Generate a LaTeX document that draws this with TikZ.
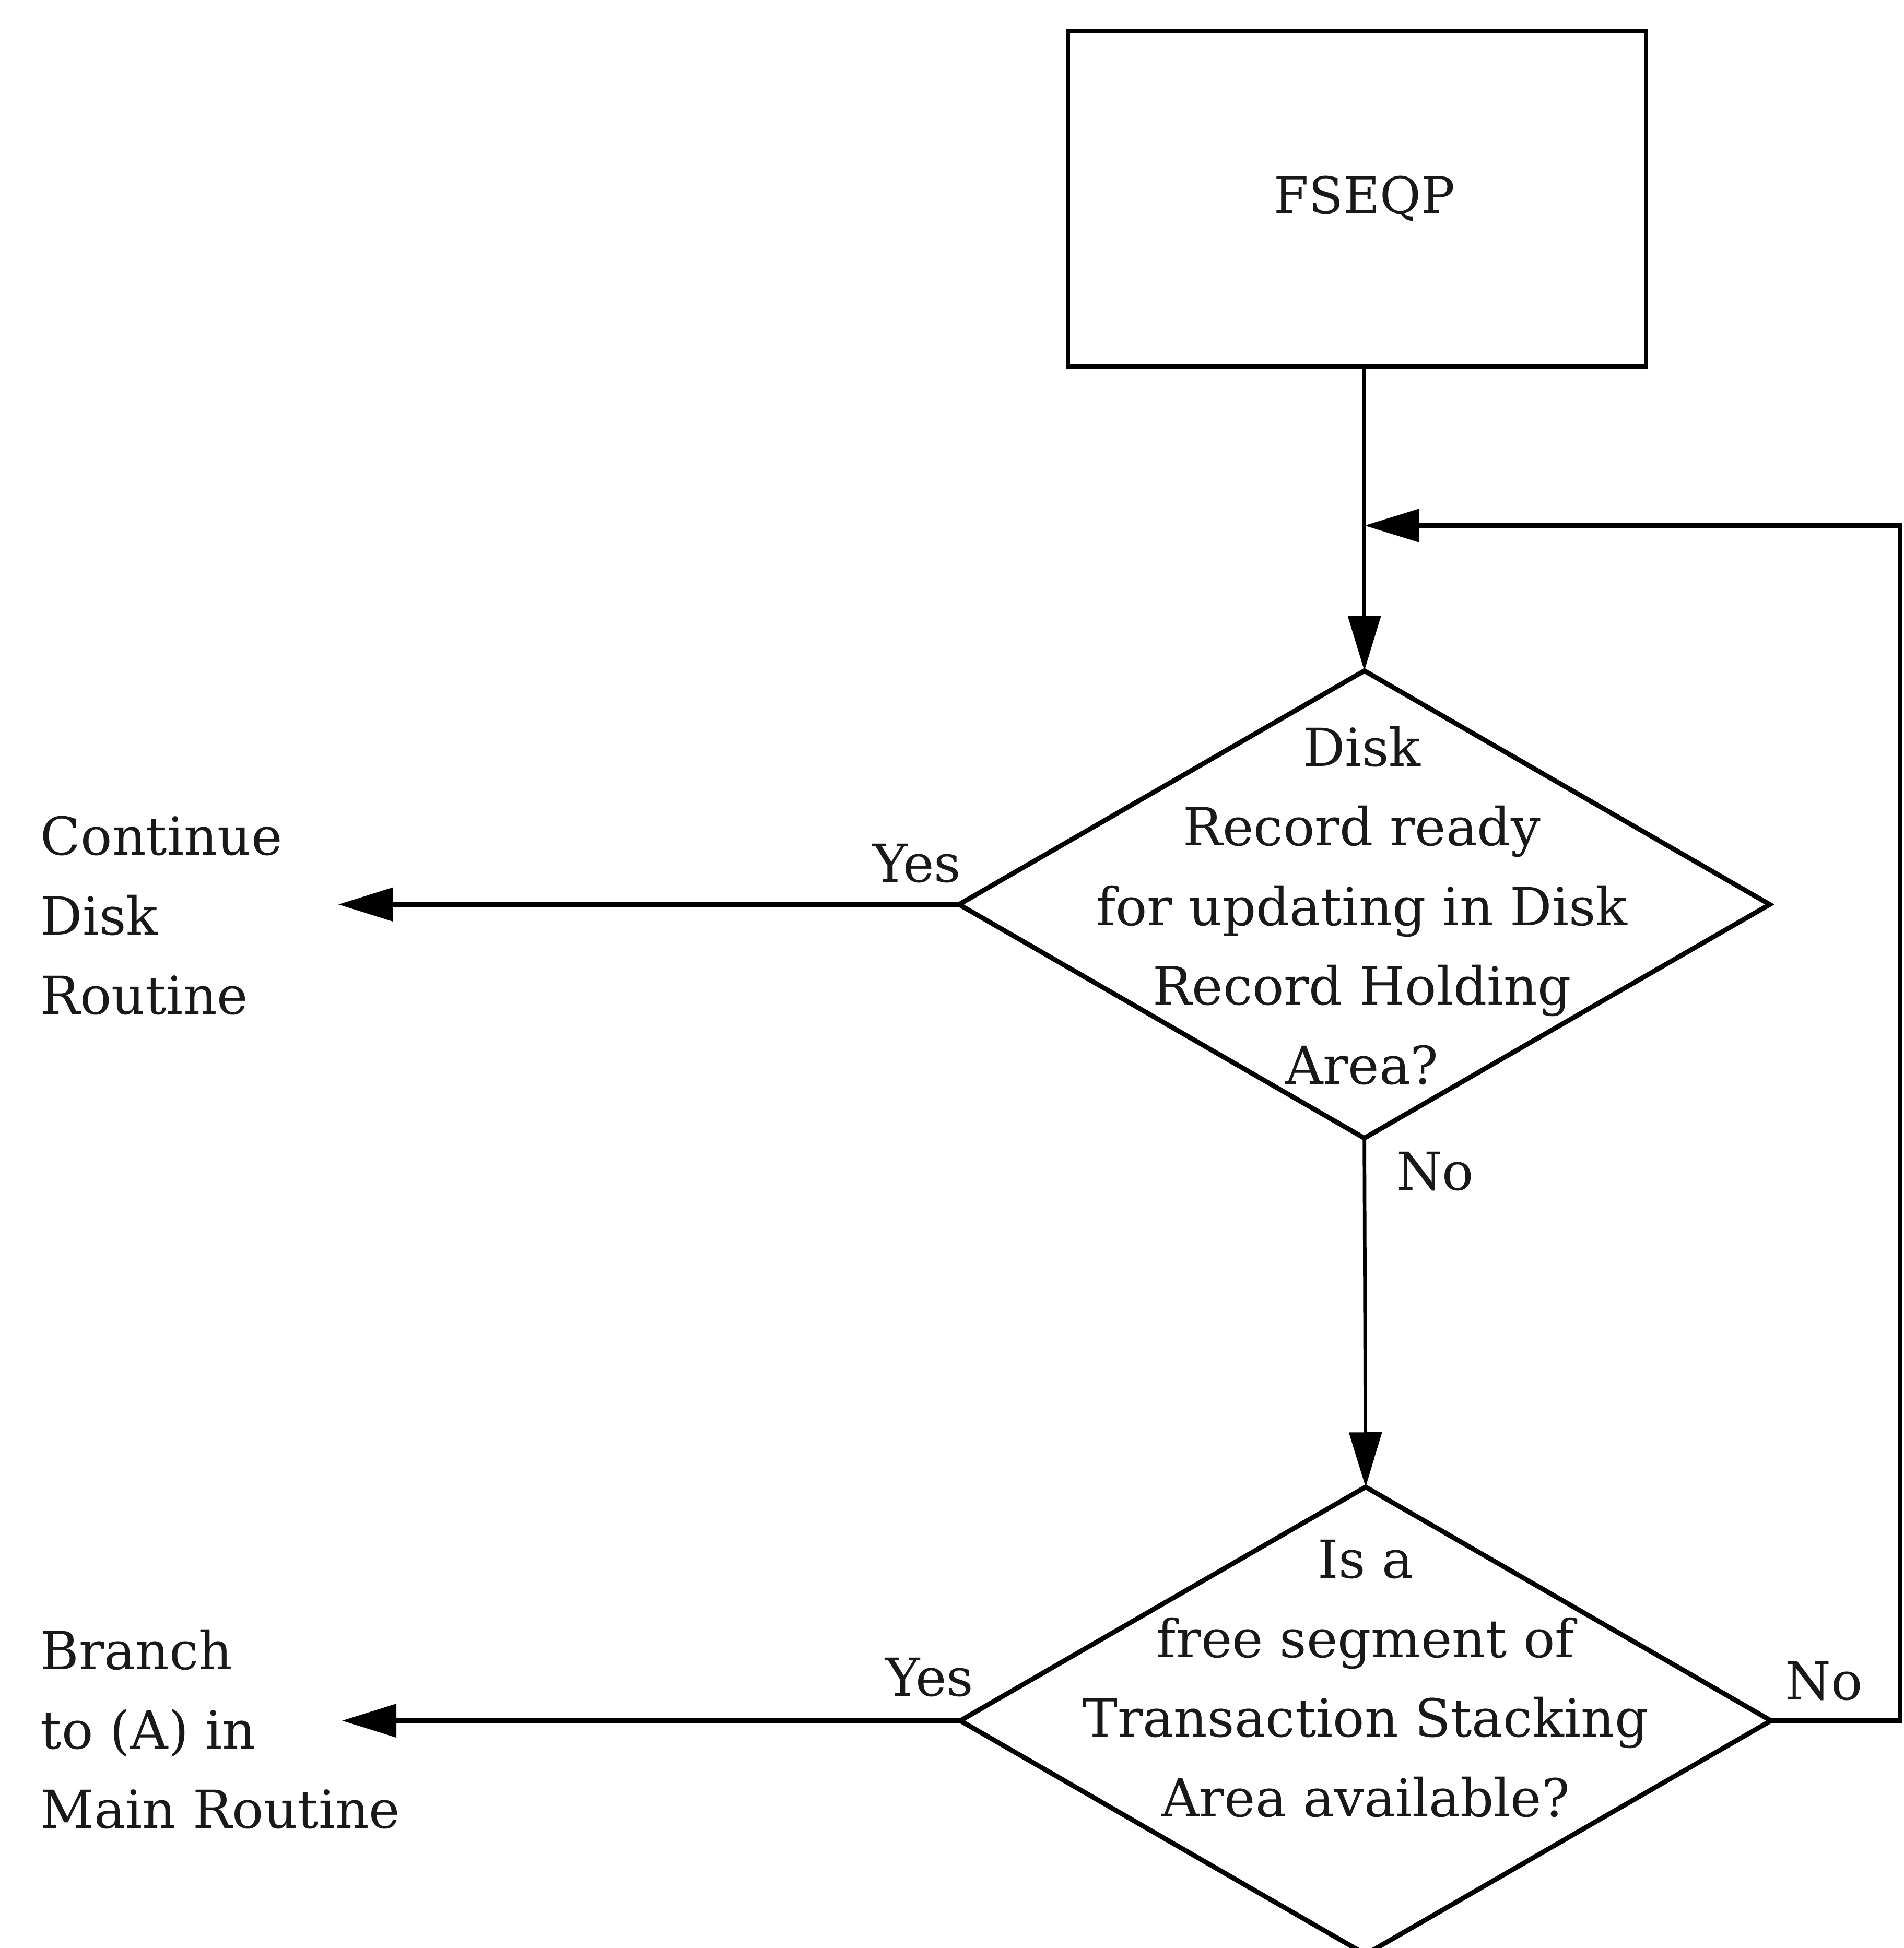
\documentclass[tikz,border=0pt]{standalone}
\usepackage{fontspec}
\setmainfont{DejaVu Serif}
\usetikzlibrary{shapes.geometric,arrows.meta}
\begin{document}
\begin{tikzpicture}[x=0.01cm,y=-0.01cm,
  every node/.style={font=\fontsize{12}{18.2}\selectfont, inner sep=0pt, text=black!90},
  procbox/.style={draw, line width=1pt, minimum width=4.65cm, minimum height=2.7cm, outer sep=0pt},
  decide/.style={draw, diamond, line width=1.1pt, minimum width=6.52cm, minimum height=3.76cm, outer sep=0pt, inner sep=0pt},
  dtext/.style={align=center},
  ltext/.style={align=left, anchor=west},
  arr/.style={-{Triangle[length=0.44cm,width=0.26cm]}},
  vline/.style={line width=0.8pt},
  hline/.style={line width=1.3pt}
]
\useasboundingbox (0,0) rectangle (1532,1568);

\node[procbox] (box) at (1092,160) {};
\node (boxt) at (1098,160) {\fontsize{11.5}{14}\selectfont FSEQP};

\node[decide] (d1) at (1098,728) {};
\node[dtext] (d1t) at (1096,729) {Disk\\Record ready\\for updating in Disk\\Record Holding\\Area?};

\node[decide] (d2) at (1099,1385) {};
\node[dtext] (d2t) at (1099,1351) {Is a\\free segment of\\Transaction Stacking\\Area available?};

\node[ltext] (cont) at (32,737) {Continue\\Disk\\Routine};
\node[ltext] (branch) at (32,1392) {Branch\\to (A) in\\Main Routine};

\node (yes1) at (738,695) {Yes};
\node (no1) at (1155,943) {No};
\node (yes2) at (748,1350) {Yes};
\node (no2) at (1468,1353) {No};

\coordinate (c1) at (272,728);
\coordinate (c2) at (275,1385);
\coordinate (r1) at (1529,1385);
\coordinate (r2) at (1529,423);
\coordinate (j) at (1098,423);

\draw[vline,arr] (d1.north |- box.south) -- (d1.north);
\draw[vline,arr] (d1.south) -- (d2.north);
\draw[hline,arr] (d1.west) -- (c1);
\draw[hline,arr] (d2.west) -- (c2);
\draw[line width=1.1pt,arr] (d2.east) -- (r1) -- (r2) -- (j);
\end{tikzpicture}
\end{document}
